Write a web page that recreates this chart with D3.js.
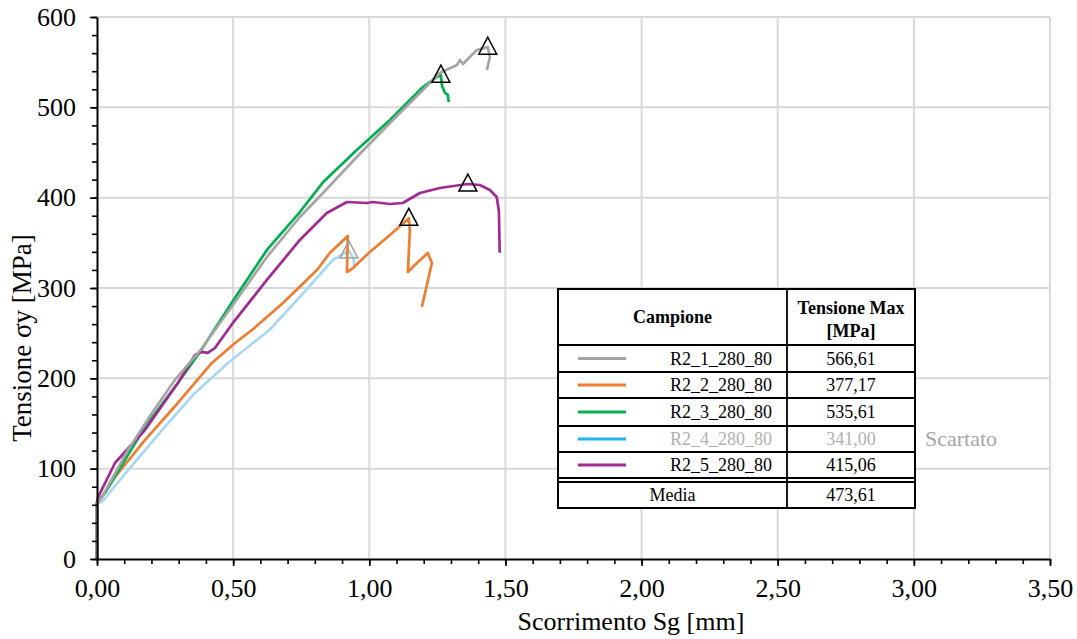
<!DOCTYPE html>
<html><head><meta charset="utf-8">
<script src="https://cdn.jsdelivr.net/npm/d3@7"></script>
<style>
body{margin:0;background:#fff}
svg{display:block}
svg text{font-family:"Liberation Serif","Tinos","Times New Roman","DejaVu Serif",serif !important}
</style></head>
<body><svg id="c" width="1077" height="639"></svg>
<script>
// ---------- DATA ----------
const categories = ["R2_1_280_80","R2_2_280_80","R2_3_280_80","R2_4_280_80","R2_5_280_80"];
const maxValues = [566.61, 377.17, 535.61, 341.00, 415.06];
const mediaValue = 473.61;
const peakX = [1.435, 1.145, 1.263, 0.925, 1.362];
const discarded = [false, false, false, true, false];
const xTicks = [0, 0.5, 1.0, 1.5, 2.0, 2.5, 3.0, 3.5];
const yTicks = [0, 100, 200, 300, 400, 500, 600];

const r2_1 = [[0,0],[0,62],[0.018,68.6],[0.114,120.7],[0.202,161.6],[0.286,198.2],[0.378,230.3],[0.499,281.2],[0.624,334.3],[0.745,378.6],[0.830,405.2],[0.954,445.0],[1.076,482.7],[1.197,519.2],[1.259,538.0],[1.322,546.9],[1.333,552.4],[1.344,548.0],[1.395,563.5],[1.435,566.6],[1.443,555.7],[1.432,541.3]];
const r2_2 = [[0,0],[0,62],[0.004,62.5],[0.066,90.8],[0.176,131.7],[0.297,172.7],[0.422,217.0],[0.507,239.1],[0.569,253.5],[0.683,283.4],[0.808,319.9],[0.855,338.8],[0.921,357.6],[0.918,317.7],[0.940,322.1],[1.002,339.9],[1.076,358.7],[1.145,377.2],[1.149,364.2],[1.142,317.7],[1.175,327.7],[1.215,338.8],[1.230,327.7],[1.193,279.0]];
const r2_3 = [[0,0],[0,62],[0.029,73.1],[0.176,146.1],[0.297,194.8],[0.378,229.2],[0.499,285.6],[0.624,342.1],[0.745,384.1],[0.830,417.0],[0.954,452.8],[1.076,486.0],[1.197,522.5],[1.248,533.6],[1.263,535.6],[1.267,524.0],[1.278,515.9],[1.288,514.0],[1.292,505.9]];
const r2_4 = [[0,0],[0,62],[0.018,63.1],[0.114,98.5],[0.239,142.8],[0.360,183.8],[0.481,217.0],[0.633,253.5],[0.745,290.0],[0.866,331.0],[0.925,341.0],[0.940,334.3],[0.947,322.1]];
const r2_5 = [[0,0],[0,62],[0.004,68.6],[0.066,106.3],[0.176,142.8],[0.297,194.8],[0.360,225.8],[0.385,229.2],[0.407,228.1],[0.433,233.6],[0.499,261.3],[0.624,308.9],[0.745,353.2],[0.844,383.0],[0.918,395.2],[0.991,394.1],[1.013,395.2],[1.076,393.0],[1.123,394.1],[1.186,405.2],[1.259,410.7],[1.322,413.5],[1.362,415.1],[1.406,414.0],[1.443,408.5],[1.468,400.8],[1.476,385.0],[1.479,339.0]];
const seriesData = [r2_1, r2_2, r2_3, r2_4, r2_5];
const lineColors = ["#a5a5a5","#ed7d31","#00b050","#a8d9f0","#a02b93"];
const legendColors = ["#a5a5a5","#ed7d31","#00b050","#1fb4ef","#a02b93"];

// ---------- CHART ----------
const svg = d3.select("#c");
const FONT = "'Liberation Serif','Tinos','Times New Roman','DejaVu Serif',serif";
const x = d3.scaleLinear().domain([0,3.5]).range([97,1050]);
const y = d3.scaleLinear().domain([0,600]).range([559,17]);
const fmt = v => d3.format(".2f")(v).replace(".", ",");

// grid
svg.append("g").selectAll("line").data(xTicks.filter(d=>d>0)).join("line")
  .attr("x1",d=>x(d)).attr("x2",d=>x(d)).attr("y1",y(0)).attr("y2",y(600))
  .attr("stroke","#d9d9d9").attr("stroke-width",2);
svg.append("g").selectAll("line").data(yTicks.filter(d=>d>0)).join("line")
  .attr("x1",x(0)).attr("x2",x(3.5)).attr("y1",d=>y(d)).attr("y2",d=>y(d))
  .attr("stroke","#d9d9d9").attr("stroke-width",2);

// lines
const line = d3.line().x(d=>x(d[0])).y(d=>y(d[1]));
const order = [3,1,2,4,0];
order.forEach(i=>{
  svg.append("path").datum(seriesData[i]).attr("d",line)
    .attr("fill","none").attr("stroke",lineColors[i]).attr("stroke-width",2.7)
    .attr("stroke-linejoin","round");
});

// peak markers
order.forEach(i=>{
  const px = x(peakX[i]), py = y(maxValues[i]);
  svg.append("path")
    .attr("d",`M${px},${py-10}L${px-9},${py+7}L${px+9},${py+7}Z`)
    .attr("fill","none").attr("stroke",discarded[i]?"#a0a0a0":"#000").attr("stroke-width",1.5);
});

// axes
const xAxis = svg.append("g").attr("transform",`translate(0,${y(0)})`)
  .call(d3.axisBottom(x).tickValues(xTicks).tickFormat(fmt).tickSize(7).tickSizeOuter(0));
svg.append("g").attr("transform",`translate(0,${y(0)})`)
  .call(d3.axisBottom(x).tickValues(d3.range(0,36).map(k=>k/10)).tickFormat("").tickSize(5).tickSizeOuter(0))
  .select(".domain").remove();
const yAxis = svg.append("g").attr("transform",`translate(${x(0)},0)`)
  .call(d3.axisLeft(y).tickValues(yTicks).tickSize(7).tickSizeOuter(0));
svg.append("g").attr("transform",`translate(${x(0)},0)`)
  .call(d3.axisLeft(y).tickValues(d3.range(0,31).map(k=>k*20)).tickFormat("").tickSize(5).tickSizeOuter(0))
  .select(".domain").remove();
svg.selectAll("g").attr("font-family",FONT);
svg.selectAll(".domain").attr("stroke","#000").attr("stroke-width",2);
svg.selectAll(".tick line").attr("stroke","#000").attr("stroke-width",1.6);
xAxis.selectAll("text").attr("font-size",26).attr("fill","#000").attr("y",20).attr("dy","0.71em");
yAxis.selectAll("text").attr("font-size",26).attr("fill","#000").attr("x",-21);

// axis titles
svg.append("text").attr("x",631).attr("y",630).attr("text-anchor","middle")
  .attr("font-size",26).text("Scorrimento Sg [mm]");
svg.append("text").attr("transform","translate(31,338) rotate(-90)").attr("text-anchor","middle")
  .attr("font-size",27).text("Tensione σy [MPa]");

// ---------- TABLE ----------
const T = {l:558, r:915, c:787, top:289, head:345, rows:[345,372,398,426,452,478], m1:482, bottom:508};
const tg = svg.append("g");
tg.append("rect").attr("x",T.l).attr("y",T.top).attr("width",T.r-T.l).attr("height",T.bottom-T.top)
  .attr("fill","#fff").attr("stroke","#000").attr("stroke-width",2);
const hl = yy => tg.append("line").attr("x1",T.l).attr("x2",T.r).attr("y1",yy).attr("y2",yy)
  .attr("stroke","#000").attr("stroke-width",1.8);
T.rows.forEach(hl); hl(T.m1);
tg.append("line").attr("x1",T.c).attr("x2",T.c).attr("y1",T.top).attr("y2",T.bottom)
  .attr("stroke","#000").attr("stroke-width",1.8);
tg.append("text").attr("x",(T.l+T.c)/2).attr("y",323).attr("text-anchor","middle")
  .attr("font-size",18).attr("font-weight","bold").text("Campione");
tg.append("text").attr("x",(T.c+T.r)/2).attr("y",314).attr("text-anchor","middle")
  .attr("font-size",18).attr("font-weight","bold").text("Tensione Max");
tg.append("text").attr("x",(T.c+T.r)/2).attr("y",337).attr("text-anchor","middle")
  .attr("font-size",18).attr("font-weight","bold").text("[MPa]");
categories.forEach((c,i)=>{
  const cy = (T.rows[i]+ (T.rows[i+1]||T.m1))/2;
  const col = discarded[i] ? "#b0b0b0" : "#000";
  tg.append("line").attr("x1",578).attr("x2",626).attr("y1",cy).attr("y2",cy)
    .attr("stroke",legendColors[i]).attr("stroke-width",3);
  tg.append("text").attr("x",772).attr("y",cy+6).attr("text-anchor","end")
    .attr("font-size",18).attr("fill",col).text(c);
  tg.append("text").attr("x",(T.c+T.r)/2).attr("y",cy+6).attr("text-anchor","middle")
    .attr("font-size",18).attr("fill",col).text(fmt(maxValues[i]));
  if (discarded[i]) {
    svg.append("text").attr("x",925).attr("y",cy+7).attr("font-size",22)
      .attr("fill","#a6a6a6").text("Scartato");
  }
});
const my = (T.m1+T.bottom)/2;
tg.append("text").attr("x",(T.l+T.c)/2).attr("y",my+6).attr("text-anchor","middle")
  .attr("font-size",18).text("Media");
tg.append("text").attr("x",(T.c+T.r)/2).attr("y",my+6).attr("text-anchor","middle")
  .attr("font-size",18).text(fmt(mediaValue));
</script></body></html>
